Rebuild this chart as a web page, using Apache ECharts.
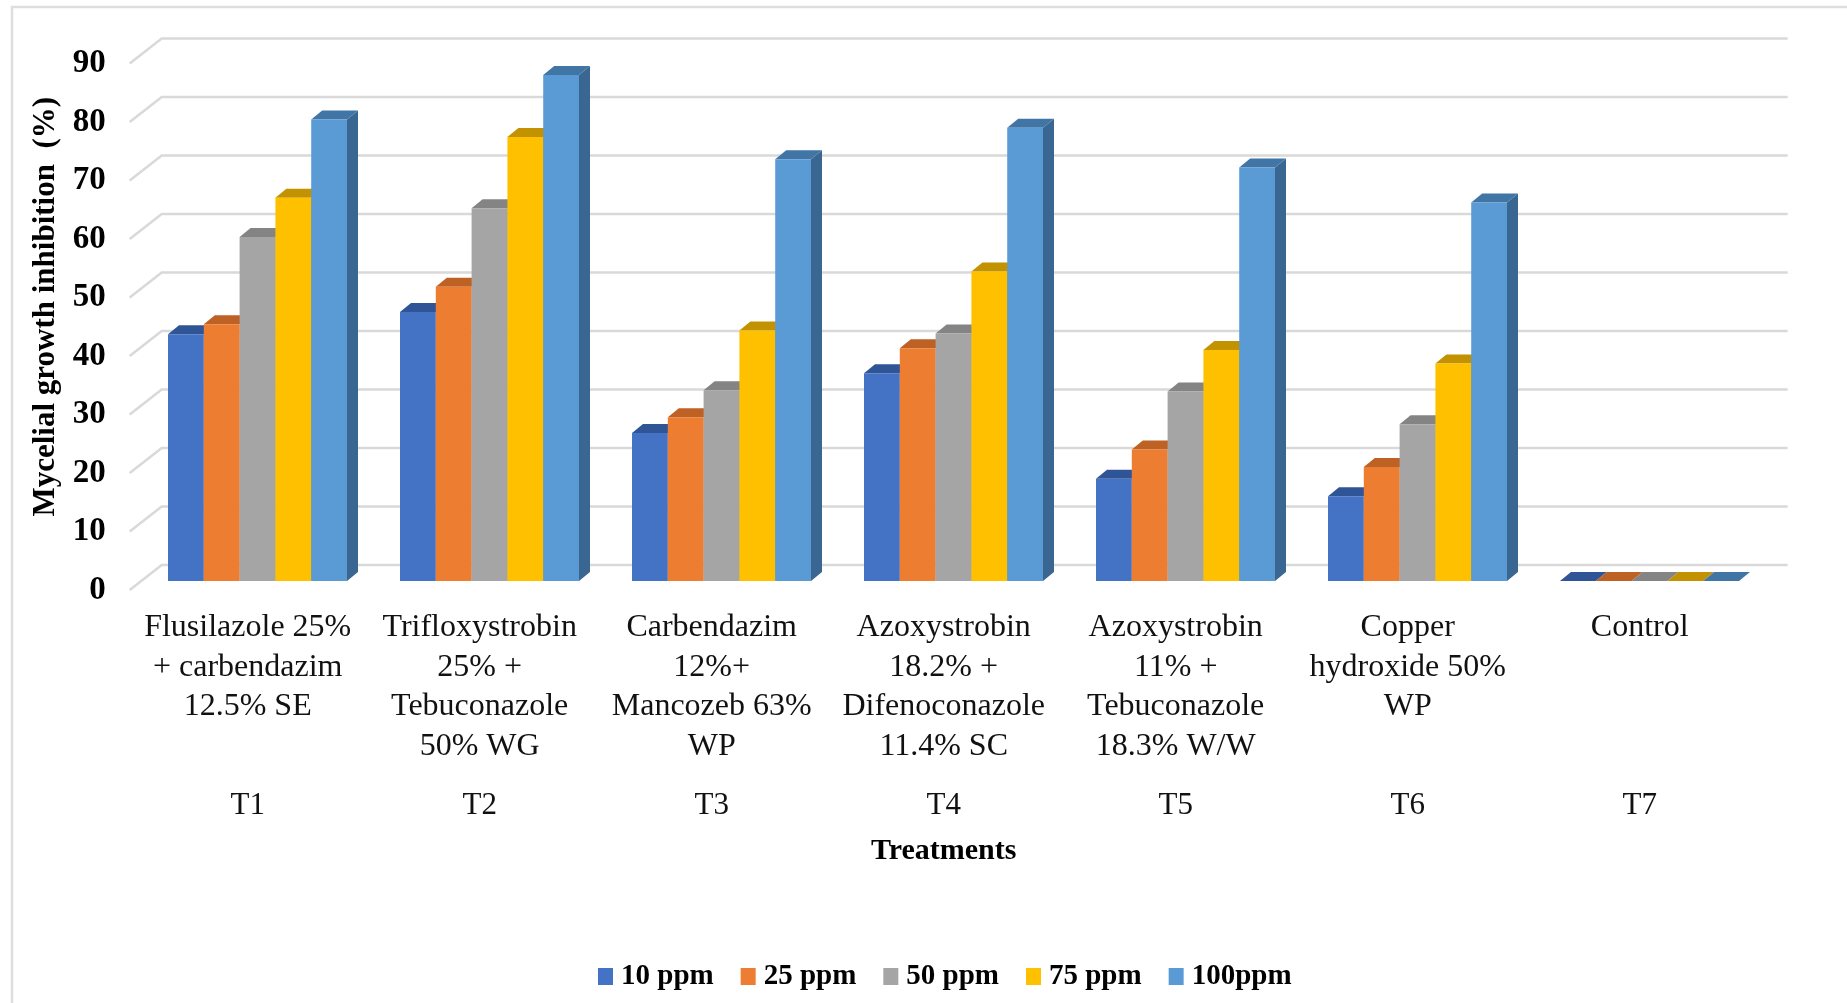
<!DOCTYPE html>
<html><head><meta charset="utf-8">
<style>html,body{margin:0;padding:0;background:#fff}#c{width:1847px;height:1003px}</style>
<script src="https://cdn.jsdelivr.net/npm/echarts@6/dist/echarts.min.js"></script>
</head><body><div id="c"></div>
<script>
var categories = ['Flusilazole 25%\n+ carbendazim\n12.5% SE','Trifloxystrobin\n25% +\nTebuconazole\n50% WG','Carbendazim\n12%+\nMancozeb 63%\nWP','Azoxystrobin\n18.2% +\nDifenoconazole\n11.4% SC','Azoxystrobin\n11% +\nTebuconazole\n18.3% W/W','Copper\nhydroxide 50%\nWP','Control'];
var treatmentCodes = ['T1','T2','T3','T4','T5','T6','T7'];
var yTicks = [0,10,20,30,40,50,60,70,80,90];
var seriesNames = ['10 ppm','25 ppm','50 ppm','75 ppm','100ppm'];
var ppm10  = [42.2,46.0,25.3,35.5,17.5,14.5,0];
var ppm25  = [43.9,50.3,28.0,39.8,22.5,19.5,0];
var ppm50  = [58.8,63.7,32.6,42.3,32.4,26.8,0];
var ppm75  = [65.5,75.9,42.8,52.9,39.5,37.2,0];
var ppm100 = [78.9,86.5,72.1,77.5,70.7,64.7,0];
var seriesValues = [ppm10,ppm25,ppm50,ppm75,ppm100];
var frontColors = ['#4472C4','#ED7D31','#A5A5A5','#FFC000','#5B9BD5'];
var topColors   = ['#2F5597','#BE6125','#848484','#C29200','#4175A6'];
var sideColors  = ['#2F5597','#BE6125','#7C7C7C','#BF9000','#3A6791'];

var SERIF = '"Liberation Serif","Times New Roman",serif';
var barW = 35.8, groupShift = -79.7, floorGap = 9, barDx = 11, barDy = 9, wallDx = 32, wallDy = 25;

function barRenderer(si){
  return function(params, api){
    var p = api.coord([api.value(0), api.value(1)]);
    var base = api.coord([api.value(0), 0]);
    var l = p[0] + groupShift + si*barW, r = l + barW;
    var t = p[1] - floorGap, b = base[1] - floorGap;
    return {type:'group', children:[
      {type:'polygon', shape:{points:[[r,t],[r+barDx,t-barDy],[r+barDx,b-barDy],[r,b]]}, style:{fill:sideColors[si]}},
      {type:'polygon', shape:{points:[[l,t],[l+barDx,t-barDy],[r+barDx,t-barDy],[r,t]]}, style:{fill:topColors[si]}},
      {type:'rect', shape:{x:l,y:t,width:barW,height:b-t}, style:{fill:frontColors[si]}}
    ]};
  };
}
var wallSeries = {
  type:'custom', silent:true, legendHoverLink:false, clip:false, z:1, tooltip:{show:false},
  encode:{x:0,y:1},
  data: yTicks.map(function(v){return [0,v];}),
  renderItem:function(params,api){
    var rect = params.coordSys;
    var y = api.coord([0,api.value(1)])[1];
    var x0 = rect.x, x1 = rect.x + rect.width;
    return {type:'polyline', shape:{points:[[x0-2,y],[x0+wallDx-2,y-wallDy],[x1+wallDx,y-wallDy]]},
      style:{stroke:'#D9D9D9',lineWidth:2.5,fill:null}};
  }
};
var barSeries = seriesNames.map(function(n,si){
  return {name:n,type:'custom',clip:false,z:2+si,itemStyle:{color:frontColors[si]},
    encode:{x:0,y:1},
    data:seriesValues[si].map(function(v,i){return [i,v];}),
    renderItem:barRenderer(si)};
});

var chart = echarts.init(document.getElementById('c'),null,{renderer:'canvas'});
chart.setOption({
  animation:false, backgroundColor:'#fff',
  grid:{left:131.7,width:1624,top:63.5,height:526.5,containLabel:false,outerBoundsMode:'none'},
  legend:{data:seriesNames,left:593,top:957,itemWidth:15,itemHeight:17,itemGap:27,
    icon:'rect',textStyle:{fontFamily:SERIF,fontWeight:'bold',fontSize:29,color:'#000',padding:[0,0,0,3]}},
  xAxis:[
    {type:'category',data:categories,boundaryGap:true,position:'bottom',
     axisLine:{show:false},axisTick:{show:false},splitLine:{show:false},
     axisLabel:{interval:0,margin:18,fontFamily:SERIF,fontSize:32,lineHeight:39.5,color:'#111',align:'center',hideOverlap:false}},
    {type:'category',data:treatmentCodes,boundaryGap:true,position:'bottom',
     axisLine:{show:false},axisTick:{show:false},splitLine:{show:false},
     axisLabel:{interval:0,margin:200,fontFamily:SERIF,fontSize:31,color:'#111'},
     name:'Treatments',nameLocation:'middle',nameGap:246,
     nameTextStyle:{fontFamily:SERIF,fontWeight:'bold',fontSize:30,color:'#000'}}
  ],
  yAxis:{type:'value',min:0,max:90,interval:10,
    axisLine:{show:false},axisTick:{show:false},splitLine:{show:false},
    axisLabel:{margin:26,fontFamily:SERIF,fontWeight:'bold',fontSize:33,color:'#000'},
    name:'Mycelial growth inhibition  (%)',nameLocation:'middle',nameGap:67,nameRotate:90,
    nameTextStyle:{fontFamily:SERIF,fontWeight:'bold',fontSize:31,color:'#000',padding:[0,0,0,40]}},
  graphic:[{type:'polyline',silent:true,shape:{points:[[12,1003],[12,7],[1847,7]]},style:{stroke:'#DEDEDE',lineWidth:2.5,fill:null}}],
  series:[wallSeries].concat(barSeries)
});
</script></body></html>
